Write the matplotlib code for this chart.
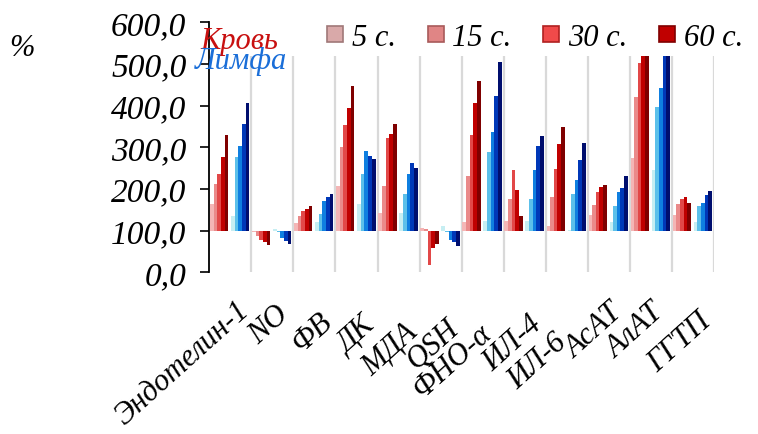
import matplotlib
matplotlib.use("Agg")
import matplotlib.pyplot as plt
import matplotlib.transforms as mtransforms
from matplotlib.lines import Line2D
from matplotlib.patches import Rectangle
from matplotlib.ticker import FuncFormatter, MultipleLocator

CATEGORIES = ["Эндотелин-1", "NO", "ФВ", "ДК", "МДА", "QSH", "ФНО-α",
              "ИЛ-4", "ИЛ-6", "АсАТ", "АлАТ", "ГГТП"]
TIMES = ["5 с.", "15 с.", "30 с.", "60 с."]

# % of control, five bars per group (lightest -> darkest)
BLOOD = [
    [164, 212, 236, 276, 330],
    [96, 88, 78, 72, 66],
    [118, 136, 148, 152, 158],
    [208, 300, 353, 394, 448],
    [142, 208, 322, 332, 356],
    [106, 103, 18, 58, 68],
    [120, 232, 330, 406, 458],
    [124, 176, 246, 198, 136],
    [112, 180, 248, 308, 348],
    [137, 161, 193, 204, 210],
    [274, 420, 502, 540, 580],
    [137, 164, 176, 181, 166],
]
LYMPH = [
    [136, 276, 304, 356, 406],
    [104, 97, 82, 76, 68],
    [120, 140, 172, 180, 188],
    [164, 236, 292, 278, 272],
    [142, 188, 236, 262, 250],
    [110, 96, 78, 72, 64],
    [122, 288, 336, 422, 504],
    [124, 176, 246, 304, 328],
    [102, 188, 222, 270, 310],
    [120, 160, 192, 202, 230],
    [246, 396, 442, 530, 575],
    [121, 160, 166, 185, 196],
]
BASE = 100

RED = ["#f4b6b6", "#ea8a8a", "#e24848", "#c00000", "#7f0000"]
BLUE = ["#c6eef2", "#5cc0ea", "#0f7fe0", "#0038b8", "#000e6e"]
LEG_COLORS = ["#d9a9a9", "#e08585", "#f04a4a", "#c00000"]
LEG_EDGES = ["#a07878", "#a85a5a", "#b02020", "#800000"]

# label nudges in pixels (dx right, dy down) to mimic the staggered labels
LABEL_SHIFT = [(5, 0), (3, 4), (4, 11), (4.5, 16), (5.5, 22), (5, 18),
               (-5, 23), (3, 14), (-14, 32), (0, 2), (-1, 2), (4, 11)]

plt.rcParams.update({
    "font.family": ["Liberation Serif", "DejaVu Serif"],
    "font.style": "italic",
    "font.size": 22,
})

W, H = 758, 435
fig = plt.figure(figsize=(W / 100, H / 100), dpi=100)
ax = fig.add_axes([209.3 / W, 1 - 273.3 / H, 504.7 / W, 250 / H])

bw = 0.086
for k in range(5):
    xs_r = [i - 0.5 + 0.02 + bw / 2 + k * bw for i in range(len(CATEGORIES))]
    xs_b = [i - 0.5 + 0.52 + bw / 2 + k * bw for i in range(len(CATEGORIES))]
    ax.bar(xs_r, [row[k] - BASE for row in BLOOD], bw * 1.05, bottom=BASE,
           color=RED[k], zorder=2, linewidth=0)
    ax.bar(xs_b, [row[k] - BASE for row in LYMPH], bw * 1.05, bottom=BASE,
           color=BLUE[k], zorder=2, linewidth=0)

ax.set_xlim(-0.5, len(CATEGORIES) - 0.5)
ax.set_ylim(0, 600)
ax.yaxis.set_major_locator(MultipleLocator(100))
ax.yaxis.set_major_formatter(FuncFormatter(lambda v, _: f"{v:.1f}".replace(".", ",")))
ax.tick_params(axis="y", length=6.5, width=1.2, pad=10, labelsize=24)

ax.set_xticks(range(len(CATEGORIES)))
ax.set_xticklabels([])
ax.set_xticks([i + 0.5 for i in range(len(CATEGORIES))], minor=True)
ax.tick_params(axis="x", which="both", length=0)
ax.grid(True, which="minor", axis="x", color="#d9d9d9", linewidth=1.6, zorder=0)
ax.set_axisbelow(True)

for side in ("top", "right", "bottom"):
    ax.spines[side].set_visible(False)
ax.spines["left"].set_linewidth(1.3)
ax.spines["left"].set_zorder(6)

# white band under the legend hides the tops of the tallest bars
cover = Rectangle((210.5 / W, 1 - 57 / H), 1 - 210.5 / W, 57 / H,
                  transform=fig.transFigure, facecolor="white",
                  edgecolor="none", zorder=4, clip_on=False)
ax.add_patch(cover)

for i, (name, (dx, dy)) in enumerate(zip(CATEGORIES, LABEL_SHIFT)):
    tr = ax.get_xaxis_transform() + mtransforms.ScaledTranslation(
        dx / 100, -(23 + dy) / 100, fig.dpi_scale_trans)
    ax.text(i, 0, name, transform=tr, rotation=42, rotation_mode="anchor",
            ha="right", va="top", fontsize=22)

handles = [Line2D([], [], marker="s", linestyle="none", markersize=12,
                  markerfacecolor=c, markeredgecolor=e, markeredgewidth=1.2)
           for c, e in zip(LEG_COLORS, LEG_EDGES)]
leg = ax.legend(handles, TIMES, ncol=4, loc="center left",
                bbox_to_anchor=(326 / W, 1 - 38 / H),
                bbox_transform=fig.transFigure, frameon=False, fontsize=22,
                handlelength=0.6, handletextpad=0.25, columnspacing=1.0,
                borderpad=0, borderaxespad=0)
leg.set_zorder(7)

fig.text(200 / W, 1 - 42 / H, "Кровь", color="#c81010", ha="left",
         va="center", fontsize=22)
fig.text(195 / W, 1 - 61 / H, "Лимфа", color="#1a6ed8", ha="left",
         va="center", fontsize=22)
fig.text(22 / W, 1 - 49 / H, "%", ha="center", va="center", fontsize=22)

fig.savefig("out.png", dpi=100)
